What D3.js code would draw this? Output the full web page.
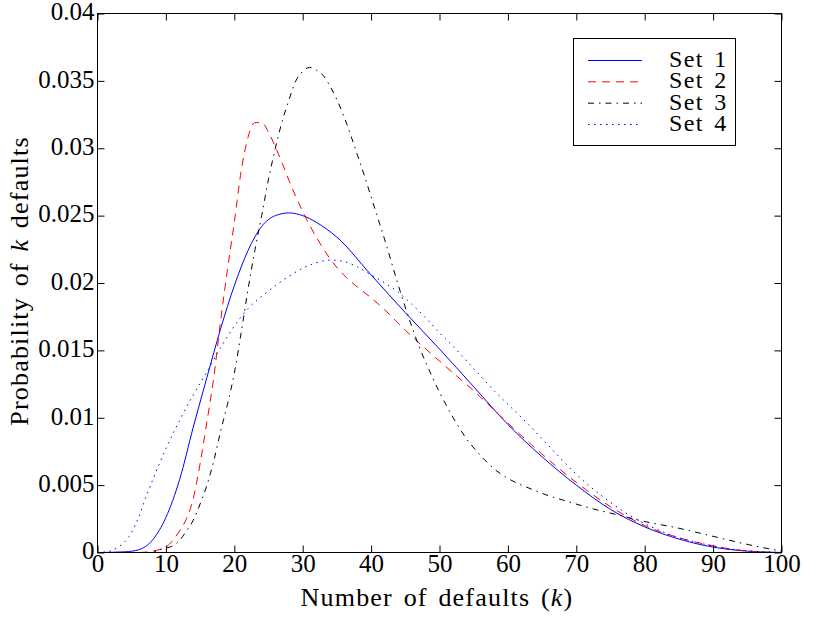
<!DOCTYPE html>
<html><head><meta charset="utf-8">
<script src="https://cdn.jsdelivr.net/npm/d3@7/dist/d3.min.js"></script>
<style>
body{margin:0;background:#fff}
text{font-family:"Liberation Serif","DejaVu Serif",serif;fill:#000}
</style>
</head><body>
<svg id="chart" width="813" height="622"></svg>
<script>
// ---- data ----
const set1K = [0,4,6,8,10,12,14,16,18,20,22,24,26,28,30,32,35,40,45,50,55,60,65,70,75,80,85,90,95,100];
const set1P = [0,0.00005,0.0002,0.0009,0.0026,0.0054,0.0093,0.0130,0.0166,0.0198,0.0224,0.0242,0.0250,0.0252,0.0250,0.0245,0.0234,0.0206,0.0178,0.0151,0.0123,0.0095,0.0071,0.0050,0.0032,0.0019,0.0010,0.0004,0.0001,0];

const set2K = [0,6,8,10,11.3,12,13,14,15,16,17,18,19,20,21,22,23,24,25,26,27,28,29,30,31,32,34,36,38,40,42,45,50,55,60,65,70,75,80,85,90,95,100];
const set2P = [0,0,0.0001,0.0004,0.0011,0.0016,0.0025,0.0040,0.0066,0.0097,0.0130,0.0172,0.0210,0.0245,0.0283,0.0308,0.0319,0.0319,0.0312,0.0301,0.0289,0.0276,0.0264,0.0253,0.0243,0.0234,0.0218,0.0206,0.0197,0.0189,0.0180,0.0165,0.0142,0.0120,0.0096,0.0073,0.0052,0.0034,0.0020,0.0011,0.0005,0.0001,0];

const set3K = [0,8,9,11,12,13,14,15,16,17,18,19,20,21,22,23,24,25,26,27,28,29,30,31,32,33,34,35,36,37,38,39,40,41,42,43,44,45,46,47,48,50,52,54,56,58,60,62,64,66,68,72,76,80,85,90,95,100];
const set3P = [0,0,0.0002,0.0005,0.0009,0.0016,0.0024,0.0036,0.0050,0.0068,0.0090,0.0110,0.0133,0.0163,0.0195,0.0224,0.0250,0.0277,0.0300,0.0320,0.0336,0.0350,0.0357,0.0360,0.0358,0.0354,0.0346,0.0336,0.0324,0.0310,0.0295,0.0280,0.0264,0.0248,0.0232,0.0215,0.0198,0.0182,0.0167,0.0153,0.0141,0.0119,0.0100,0.0084,0.0072,0.0062,0.0055,0.0050,0.0046,0.0042,0.0039,0.0033,0.0028,0.0023,0.0018,0.0012,0.0006,0.0001];

const set4K = [0,1,2,3,4,5,6,7,8,10,12,14,16,18,20,22,24,26,28,30,32,34,36,38,40,42,44,46,48,50,52,54,56,58,60,63,66,70,74,78,81,85,88,92,96,100];
const set4P = [0,0.00003,0.00013,0.0004,0.0008,0.0015,0.0026,0.0040,0.0053,0.0077,0.0098,0.0117,0.0134,0.0152,0.0168,0.0181,0.0190,0.0198,0.0205,0.0211,0.0215,0.0217,0.0216,0.0212,0.0206,0.0200,0.0193,0.0184,0.0174,0.0163,0.0153,0.0142,0.0131,0.0120,0.0110,0.0095,0.0079,0.0058,0.0041,0.0027,0.0019,0.0011,0.0007,0.0003,0.0001,0];

const seriesNames = ["Set 1","Set 2","Set 3","Set 4"];
const xTicks = [0,10,20,30,40,50,60,70,80,90,100];
const yTicks = [0,0.005,0.01,0.015,0.02,0.025,0.03,0.035,0.04];
const yTickLabels = ["0","0.005","0.01","0.015","0.02","0.025","0.03","0.035","0.04"];
const xLabel = "Number of defaults (";
const yLabel = "Probability of ";

// ---- layout ----
const L = 97.5, R = 781.5, T = 13.5, B = 552.5;
const svg = d3.select("#chart");
const x = d3.scaleLinear().domain([0,100]).range([L,R]);
const y = d3.scaleLinear().domain([0,0.04]).range([B,T]);

const styles = [
  {color:"#0000ff", dash:null},
  {color:"#ff0000", dash:"8,6"},
  {color:"#000000", dash:"6,5,1.5,5"},
  {color:"#0000ff", dash:"1.5,4.5"}
];
const series = [[set1K,set1P],[set2K,set2P],[set3K,set3P],[set4K,set4P]];

const line = d3.line().x(d=>x(d[0])).y(d=>y(d[1])).curve(d3.curveMonotoneX);
series.forEach((s,i)=>{
  const pts = s[0].map((k,j)=>[k,s[1][j]]);
  svg.append("path").datum(pts)
    .attr("d",line).attr("fill","none")
    .attr("stroke",styles[i].color).attr("stroke-width",1)
    .attr("stroke-dasharray",styles[i].dash);
});

// frame
svg.append("rect").attr("x",L).attr("y",T).attr("width",R-L).attr("height",B-T)
  .attr("fill","none").attr("stroke","#000").attr("stroke-width",1);

// axes with inward ticks
const ax = svg.append("g").attr("transform",`translate(0,${B})`)
  .call(d3.axisBottom(x).tickValues(xTicks).tickSizeInner(-7).tickSizeOuter(0).tickFormat(d3.format("d")));
ax.select(".domain").remove();
ax.attr("font-family",null);
ax.selectAll("text").attr("y",19).attr("dy",0).attr("font-size","25px");

const axTop = svg.append("g").attr("transform",`translate(0,${T})`)
  .call(d3.axisTop(x).tickValues(xTicks).tickSizeInner(-7).tickSizeOuter(0).tickFormat(""));
axTop.select(".domain").remove();

const ay = svg.append("g").attr("transform",`translate(${L},0)`)
  .call(d3.axisLeft(y).tickValues(yTicks).tickSizeInner(-7).tickSizeOuter(0).tickFormat((d,i)=>yTickLabels[i]));
ay.select(".domain").remove();
ay.attr("font-family",null);
ay.selectAll("text").attr("x",-3).attr("dy","0.25em").attr("font-size","25px");

const ayR = svg.append("g").attr("transform",`translate(${R},0)`)
  .call(d3.axisRight(y).tickValues(yTicks).tickSizeInner(-7).tickSizeOuter(0).tickFormat(""));
ayR.select(".domain").remove();

svg.selectAll(".tick line").attr("stroke","#000");

// axis labels
const xl = svg.append("text").attr("x",437).attr("y",606)
  .attr("text-anchor","middle").attr("font-size","26px")
  .attr("letter-spacing","1.2px").attr("word-spacing","3px");
xl.append("tspan").text(xLabel);
xl.append("tspan").attr("font-style","italic").text("k");
xl.append("tspan").text(")");

const yl = svg.append("text").attr("transform","translate(28,281) rotate(-90)")
  .attr("text-anchor","middle").attr("font-size","26px")
  .attr("letter-spacing","1.2px").attr("word-spacing","3px");
yl.append("tspan").text(yLabel);
yl.append("tspan").attr("font-style","italic").text("k");
yl.append("tspan").text(" defaults");

// legend
const lg = svg.append("g");
lg.append("rect").attr("x",573.5).attr("y",38.5).attr("width",162).attr("height",107)
  .attr("fill","#fff").attr("stroke","#000").attr("stroke-width",1);
const rowY = d3.scalePoint().domain(seriesNames).range([60,124]);
seriesNames.forEach((n,i)=>{
  lg.append("line").attr("x1",588).attr("x2",642).attr("y1",rowY(n)+0.5).attr("y2",rowY(n)+0.5)
    .attr("stroke",styles[i].color).attr("stroke-width",1).attr("stroke-dasharray",styles[i].dash);
  lg.append("text").attr("x",669).attr("y",rowY(n)+7).attr("font-size","24px")
    .attr("letter-spacing","1.4px").attr("word-spacing","3px").text(n);
});
</script>
</body></html>
